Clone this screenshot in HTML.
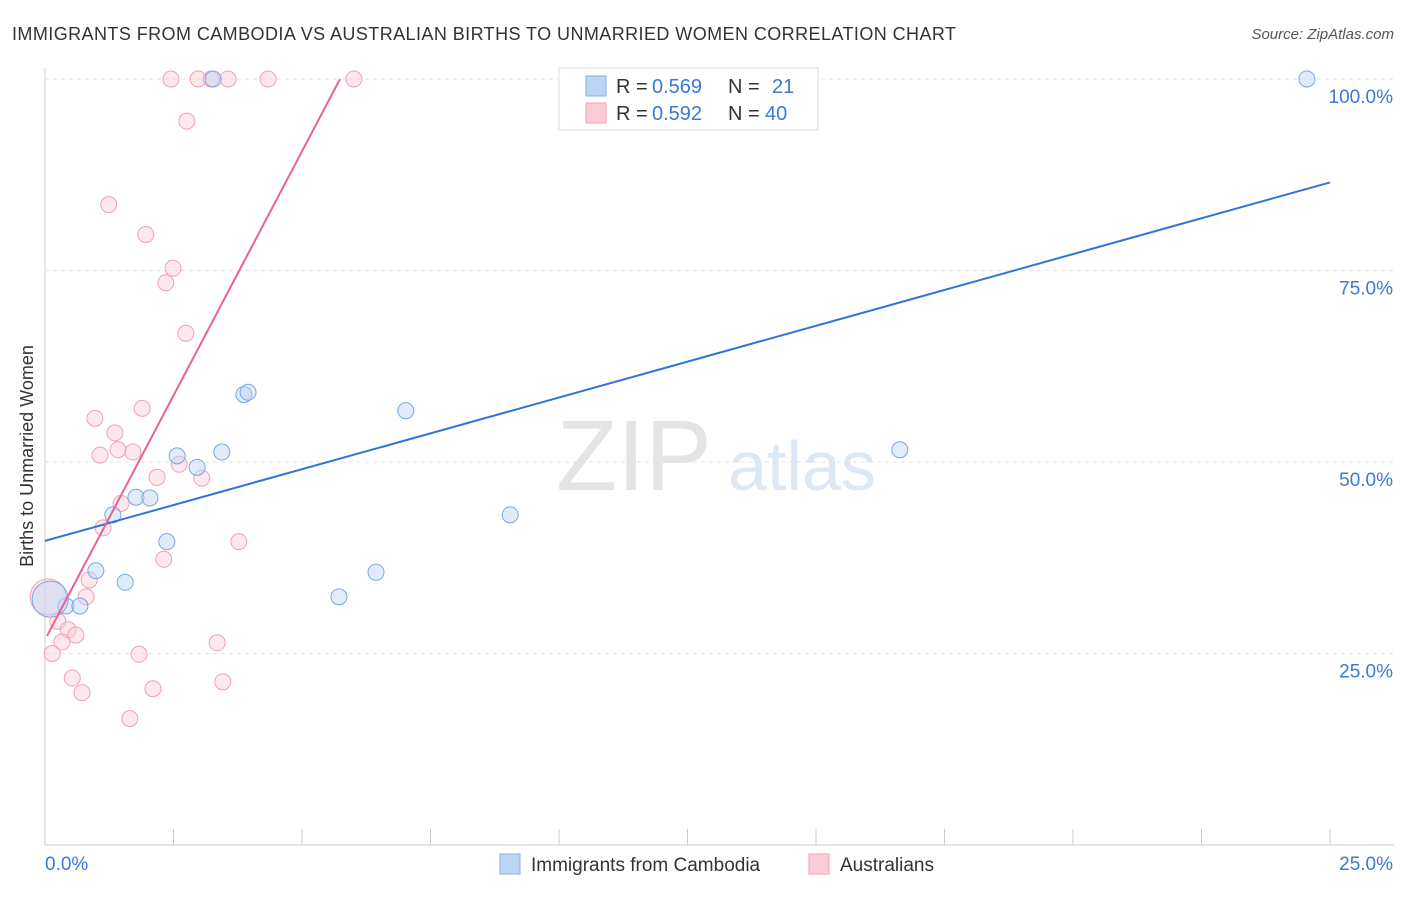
<!DOCTYPE html>
<html><head><meta charset="utf-8"><style>
body{margin:0;background:#fff;font-family:"Liberation Sans",sans-serif;}
svg text{font-family:"Liberation Sans",sans-serif;}
</style></head><body>
<svg id="c" width="1406" height="892">
<text x="12" y="40" font-size="18" fill="#333" textLength="944">IMMIGRANTS FROM CAMBODIA VS AUSTRALIAN BIRTHS TO UNMARRIED WOMEN CORRELATION CHART</text>
<text x="1394" y="39" font-size="15" fill="#555" font-style="italic" text-anchor="end">Source: ZipAtlas.com</text>
<text x="33" y="456" font-size="18" fill="#333" transform="rotate(-90 33 456)" text-anchor="middle">Births to Unmarried Women</text>
<g><text x="634" y="490" font-size="100" fill="#e4e4e4" text-anchor="middle" font-family="Liberation Serif">ZIP</text><text x="802" y="490" font-size="70" fill="#dde8f5" text-anchor="middle">atlas</text></g>
<g id="grid"></g><g id="marks"></g>
<g>
<rect x="559" y="68" width="259" height="62" fill="#fff" stroke="#ddd"/>
<rect x="586" y="76" width="20" height="20" fill="#bcd4f5" stroke="#8ab0e8"/>
<text x="616" y="93" font-size="20" fill="#333">R =</text><text x="652" y="93" font-size="20" fill="#3b78d8">0.569</text>
<text x="728" y="93" font-size="20" fill="#333">N =</text><text x="772" y="93" font-size="20" fill="#3b78d8">21</text>
<rect x="586" y="103" width="20" height="20" fill="#fbcbd8" stroke="#f0a0b8"/>
<text x="616" y="120" font-size="20" fill="#333">R =</text><text x="652" y="120" font-size="20" fill="#3b78d8">0.592</text>
<text x="728" y="120" font-size="20" fill="#333">N =</text><text x="765" y="120" font-size="20" fill="#3b78d8">40</text>
</g>
<g>
<rect x="500" y="854" width="20" height="20" fill="#bcd4f5" stroke="#8ab0e8"/>
<text x="531" y="871" font-size="19" fill="#333">Immigrants from Cambodia</text>
<rect x="809" y="854" width="20" height="20" fill="#fbcbd8" stroke="#f0a0b8"/>
<text x="840" y="871" font-size="19" fill="#333">Australians</text>
</g>
</svg>
<script>
const xTicks=[0,2.5,5,7.5,10,12.5,15,17.5,20,22.5,25];
const yTicks=[25,50,75,100];
const yTickLabels=["25.0%","50.0%","75.0%","100.0%"];
const blueX=[24.55,3.27,3.87,3.95,7.02,16.63,3.44,2.57,2.96,1.77,2.04,1.32,9.05,2.37,0.99,1.56,6.44,5.72,0.41,0.68,0.1];
const blueY=[100,100,58.8,59.1,56.7,51.6,51.3,50.8,49.3,45.4,45.3,43.1,43.1,39.6,35.8,34.3,35.6,32.4,31.2,31.2,32.1];
const pinkX=[2.45,2.98,3.23,3.56,4.34,6.01,2.76,1.24,1.96,2.49,2.35,2.74,0.97,1.89,1.36,1.07,1.42,1.71,2.61,2.18,3.05,1.48,1.13,3.77,2.31,0.86,0.8,0.25,0.45,0.6,0.33,3.35,0.14,1.83,0.53,3.46,0.72,2.1,1.65,0.06];
const pinkY=[100,100,100,100,100,100,94.5,83.6,79.7,75.3,73.4,66.8,55.7,57,53.8,50.9,51.6,51.3,49.7,48,47.9,44.6,41.4,39.6,37.3,34.6,32.4,29.2,28.1,27.4,26.5,26.4,25,24.9,21.8,21.3,19.9,20.4,16.5,32.4];
const blueLine=[[0,39.7],[25,86.5]];
const pinkLine=[[0.04,27.3],[5.74,100]];
const X=v=>45+v/25*1285, Y=v=>845-v/100*766;
const NS="http://www.w3.org/2000/svg";
const g=document.getElementById('grid'), m=document.getElementById('marks');
function el(t,a,p){const e=document.createElementNS(NS,t);for(const k in a)e.setAttribute(k,a[k]);p.appendChild(e);return e;}
let ax=el('line',{x1:45,y1:68,x2:45,y2:845,stroke:'#ccc'},g);

let bx=el('line',{x1:45,y1:845,x2:1394,y2:845,stroke:'#ccc'},g);

yTicks.forEach((v,i)=>{let l=el('line',{x1:45,y1:Y(v),x2:1394,y2:Y(v),stroke:'#e2e2e2','stroke-dasharray':'4,4'},g);

let t=el('text',{x:1393,y:Y(v)+24,'font-size':19,fill:'#3b78d8','text-anchor':'end'},g);t.textContent=yTickLabels[i];
});
xTicks.forEach(v=>{let l=el('line',{x1:X(v),y1:829,x2:X(v),y2:845,stroke:'#ccc'},g);
});
let t0=el('text',{x:45,y:870,'font-size':19,fill:'#3b78d8'},g);t0.textContent='0.0%';

let t1=el('text',{x:1393,y:870,'font-size':19,fill:'#3b78d8','text-anchor':'end'},g);t1.textContent='25.0%';

function pts(xs,ys,fill,stroke,name){xs.forEach((x,i)=>{let r=(x<0.2&&ys[i]>31&&ys[i]<33)?18:8;
let c=el('circle',{cx:X(x),cy:Y(ys[i]),r:r,fill:fill,'fill-opacity':0.45,stroke:stroke,'stroke-width':1},m);
});}
pts(pinkX,pinkY,'#fbcbd8','#f0a0b8','australians-point');
pts(blueX,blueY,'#bcd4f5','#7aa6e6','cambodia-point');
let bl=el('line',{x1:X(blueLine[0][0]),y1:Y(blueLine[0][1]),x2:X(blueLine[1][0]),y2:Y(blueLine[1][1]),stroke:'#2f74d8','stroke-width':2},m);

let pl=el('line',{x1:X(pinkLine[0][0]),y1:Y(pinkLine[0][1]),x2:X(pinkLine[1][0]),y2:Y(pinkLine[1][1]),stroke:'#e8638f','stroke-width':2},m);

</script>
</body></html>
